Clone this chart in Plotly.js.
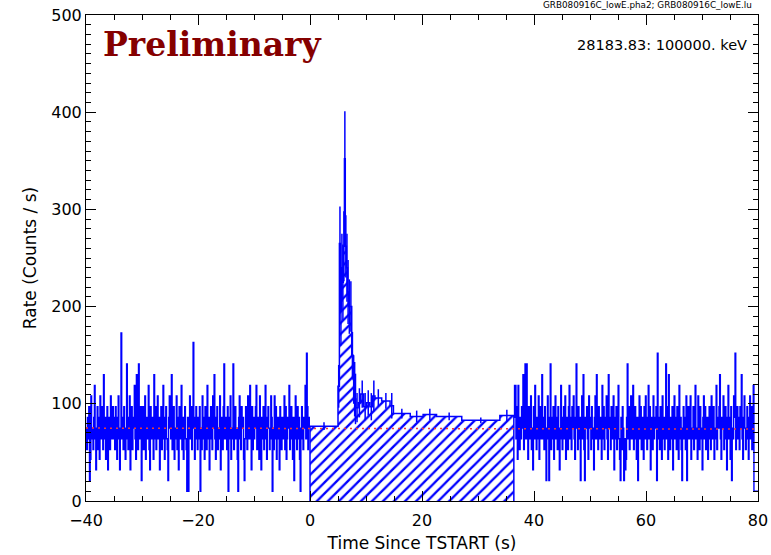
<!DOCTYPE html>
<html>
<head>
<meta charset="utf-8">
<script src="https://cdn.plot.ly/plotly-3.0.1.min.js"></script>
<style>html,body{margin:0;padding:0;background:#fff;}#chart{width:771px;height:555px;}</style>
</head>
<body>
<div id="chart"></div>
<script>
// ---- data ----
// background (pre/post source) light curve, 0.125 s bins, rate in counts/s
const binWidth = 0.125;
const preStart = -40;
const preRate = [
  75, 53, 86, 64, 97, 21, 43, 108, 64, 75, 53, 86, 119, 64, 32, 75, 97, 53, 86, 43,
  108, 64, 75, 97, 53, 130, 64, 86, 43, 75, 97, 32, 64, 86, 53, 108, 75, 64, 97, 86,
  64, 53, 97, 75, 43, 86, 108, 64, 32, 75, 173, 64, 86, 53, 97, 75, 43, 64, 141, 86,
  53, 75, 108, 32, 64, 97, 53, 86, 75, 119, 64, 43, 130, 75, 53, 141, 86, 64, 97, 21,
  75, 97, 53, 64, 108, 43, 86, 75, 64, 119, 53, 32, 97, 75, 64, 86, 43, 130, 64, 97,
  53, 75, 108, 64, 86, 32, 75, 97, 53, 64, 119, 86, 43, 75, 97, 64, 53, 21, 86, 108,
  75, 64, 130, 53, 86, 97, 43, 75, 64, 108, 53, 86, 32, 97, 75, 64, 119, 53, 86, 43,
  75, 97, 64, 53, 10, 86, 10, 75, 108, 64, 97, 53, 75, 163, 86, 43, 64, 97, 75, 53,
  86, 64, 97, 10, 75, 53, 108, 64, 86, 43, 97, 75, 53, 119, 64, 86, 32, 75, 97, 64,
  53, 108, 75, 130, 64, 43, 86, 97, 53, 75, 64, 108, 32, 86, 75, 53, 97, 141, 64, 86,
  75, 53, 97, 10, 64, 86, 108, 43, 75, 64, 141, 53, 86, 97, 64, 75, 43, 10, 86, 108,
  64, 53, 97, 75, 86, 43, 21, 64, 97, 75, 53, 108, 86, 64, 119, 75, 32, 97, 53, 86,
  64, 75, 97, 119, 53, 86, 64, 43, 108, 75, 32, 86, 64, 97, 53, 75, 119, 64, 43, 86,
  97, 75, 53, 64, 108, 86, 10, 75, 53, 108, 64, 97, 43, 75, 86, 64, 32, 97, 75, 53,
  86, 64, 75, 108, 53, 97, 43, 64, 86, 75, 119, 53, 64, 97, 75, 43, 86, 21, 64, 108,
  75, 53, 97, 64, 86, 43, 10, 75, 97, 64, 53, 86, 75, 119, 64, 152, 97, 53, 75, 86
];
const postStart = 36.4;
const postRate = [
  119, 86, 119, 64, 97, 43, 119, 75, 53, 86, 64, 97, 75, 130, 53, 86, 141, 64, 141, 75,
  43, 97, 64, 86, 108, 53, 75, 32, 97, 64, 119, 75, 53, 86, 64, 108, 43, 75, 97, 64,
  130, 64, 86, 53, 97, 75, 21, 64, 108, 86, 21, 75, 141, 53, 86, 64, 97, 43, 75, 108,
  64, 86, 53, 97, 75, 32, 64, 119, 86, 53, 75, 97, 64, 108, 43, 86, 75, 53, 97, 119,
  64, 86, 53, 97, 75, 108, 64, 43, 86, 141, 75, 53, 97, 64, 86, 21, 75, 108, 64, 130,
  53, 21, 86, 75, 97, 64, 43, 108, 75, 86, 53, 97, 64, 75, 32, 86, 108, 64, 130, 75,
  53, 97, 64, 86, 75, 43, 119, 64, 97, 53, 86, 75, 108, 64, 43, 130, 75, 86, 53, 97,
  64, 75, 108, 32, 86, 64, 97, 53, 75, 119, 64, 43, 21, 86, 53, 97, 75, 21, 64, 32,
  43, 86, 141, 64, 97, 53, 75, 108, 64, 86, 119, 53, 75, 97, 64, 43, 86, 21, 75, 108,
  64, 97, 53, 86, 75, 43, 97, 64, 108, 75, 53, 86, 119, 64, 97, 32, 75, 86, 53, 108,
  64, 86, 75, 97, 21, 152, 64, 86, 53, 97, 75, 43, 108, 64, 86, 53, 75, 141, 64, 97,
  43, 130, 75, 53, 86, 64, 97, 32, 75, 108, 64, 86, 53, 97, 75, 43, 119, 64, 86, 53,
  21, 75, 97, 64, 86, 53, 108, 21, 75, 97, 64, 86, 108, 43, 75, 64, 97, 53, 86, 119,
  64, 75, 43, 108, 86, 53, 97, 64, 75, 32, 86, 108, 64, 97, 53, 75, 86, 43, 64, 97,
  75, 53, 108, 64, 86, 97, 43, 75, 64, 119, 53, 86, 75, 97, 130, 64, 43, 86, 75, 108,
  53, 64, 97, 86, 32, 75, 119, 64, 86, 43, 97, 21, 75, 64, 108, 86, 152, 53, 75, 97,
  64, 86, 53, 97, 75, 130, 64, 43, 86, 108, 75, 53, 64, 97, 86, 43, 75, 108, 64, 97,
  53, 86, 119, 10, 10, 10, 10, 10, 10
];
// source interval, variable-width bins
const srcEdges = [0, 5.0, 5.25, 5.45, 5.6, 5.8, 5.95, 6.15, 6.3, 6.5, 6.7, 6.9, 7.15, 7.45, 7.7, 7.9, 8.05, 8.2, 8.6, 9.05, 9.6, 10.1, 10.7, 11.2, 11.6, 12.8, 14.3, 14.9, 17.9, 20.2, 22.6, 27.1, 33.9, 36.4];
const srcRate  = [77, 118, 265, 196, 240, 225, 262, 352, 262, 240, 215, 200, 200, 150, 125, 115, 105, 96, 101, 110, 97, 101, 97, 108, 106, 103, 98, 90, 87, 89, 87, 83, 88];
const srcErr   = [4, 22, 38, 36, 35, 39, 36, 49, 32, 35, 33, 28, 26, 24, 25, 28, 26, 15, 15, 14, 14, 13, 14, 16, 9, 8, 13, 5, 6, 6, 4, 3, 6];
// background polynomial fit
const bgFitT = [-40, 80];
const bgFitRate = [75, 74];
// axis ticks
const xTicks = [-40, -20, 0, 20, 40, 60, 80];
const yTicks = [0, 100, 200, 300, 400, 500];

// ---- build traces ----
function stepXY(start, w, vals) {
  const x = vals.map((_, i) => start + i * w);
  x.push(start + vals.length * w);
  const y = vals.slice();
  y.push(vals[vals.length - 1]);
  return {x, y};
}
const pre = stepXY(preStart, binWidth, preRate);
const post = stepXY(postStart, binWidth, postRate);

const lastEdge = srcEdges[srcEdges.length - 1];
const srcX = [srcEdges[0]].concat(srcEdges.slice(0, -1)).concat([lastEdge, lastEdge]);
const srcY = [0].concat(srcRate).concat([srcRate[srcRate.length - 1], 0]);
const srcMid = srcRate.map((_, i) => (srcEdges[i] + srcEdges[i + 1]) / 2);

const BLUE = '#0000ff';
const traces = [
  {x: srcX, y: srcY, type: 'scatter', mode: 'lines', line: {shape: 'hv', color: BLUE, width: 1.5},
   fill: 'tozeroy', fillcolor: 'rgba(255,255,255,0)',
   fillpattern: {shape: '/', fgcolor: BLUE, bgcolor: 'rgba(255,255,255,0)', size: 7.8, solidity: 0.3}},
  {x: srcMid, y: srcRate, type: 'scatter', mode: 'markers', marker: {size: 2, color: 'rgba(0,0,0,0)'},
   error_y: {type: 'data', array: srcErr, visible: true, width: 0, thickness: 1.5, color: BLUE}},
  {x: pre.x, y: pre.y, type: 'scatter', mode: 'lines', line: {shape: 'hv', color: BLUE, width: 1.4}},
  {x: post.x, y: post.y, type: 'scatter', mode: 'lines', line: {shape: 'hv', color: BLUE, width: 1.4}},
  {x: bgFitT, y: bgFitRate, type: 'scatter', mode: 'lines', line: {color: '#ee3b3b', width: 1.5, dash: '2px,4px'}}
];

const tickFont = {family: 'DejaVu Sans, sans-serif', size: 16, color: '#000'};
const axisCommon = {
  showgrid: false, zeroline: false, showline: true, linecolor: '#000', linewidth: 1,
  mirror: 'allticks', ticks: 'inside', ticklen: 10, tickwidth: 1, tickcolor: '#000',
  tickfont: tickFont
};

const layout = {
  width: 771, height: 555,
  margin: {l: 86, r: 13, t: 15, b: 54, pad: 0},
  paper_bgcolor: '#fff', plot_bgcolor: '#fff',
  showlegend: false,
  xaxis: Object.assign({}, axisCommon, {
    range: [-40, 80], tickvals: xTicks, ticklabelstandoff: 5,
    minor: {dtick: 5, tick0: 0, ticks: 'inside', ticklen: 5, tickwidth: 1, tickcolor: '#000', showgrid: false},
    title: {text: 'Time Since TSTART (s)', font: {family: 'DejaVu Sans, sans-serif', size: 17, color: '#000'}, standoff: 7}
  }),
  yaxis: Object.assign({}, axisCommon, {
    range: [0, 500], tickvals: yTicks,
    minor: {dtick: 10, tick0: 0, ticks: 'inside', ticklen: 5, tickwidth: 1, tickcolor: '#000', showgrid: false},
    title: {text: 'Rate (Counts / s)', font: {family: 'DejaVu Sans, sans-serif', size: 17, color: '#000'}, standoff: 10}
  }),
  annotations: [
    {xref: 'paper', yref: 'paper', x: 0.022, y: 0.94, xanchor: 'left', yanchor: 'middle', showarrow: false,
     text: 'Preliminary', font: {family: 'DejaVu Serif, serif', size: 33, weight: 'bold', color: '#850000'}},
    {xref: 'paper', yref: 'paper', x: 0.986, y: 0.938, xanchor: 'right', yanchor: 'middle', showarrow: false,
     text: '28183.83: 100000. keV', font: {family: 'DejaVu Sans, sans-serif', size: 14.5, color: '#000'}},
    {xref: 'paper', yref: 'paper', x: 0.994, y: 1.021, xanchor: 'right', yanchor: 'middle', showarrow: false,
     text: 'GRB080916C_lowE.pha2; GRB080916C_lowE.lu', font: {family: 'DejaVu Sans, sans-serif', size: 8.8, color: '#000'}}
  ]
};

Plotly.newPlot('chart', traces, layout, {staticPlot: true, displayModeBar: false});
</script>
</body>
</html>
